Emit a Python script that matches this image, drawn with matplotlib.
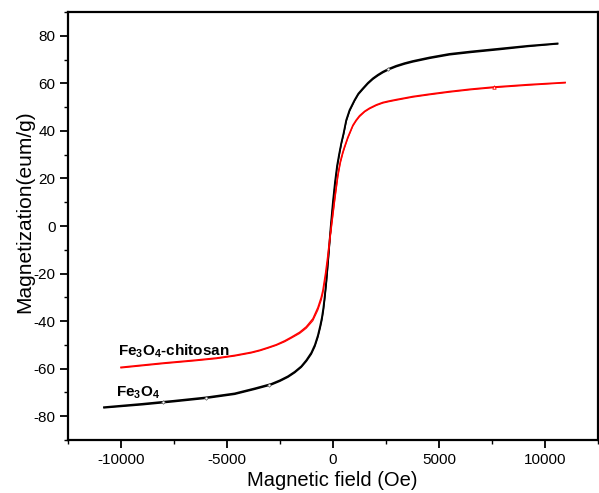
import matplotlib
matplotlib.use("Agg")
import matplotlib.pyplot as plt
from matplotlib.ticker import MultipleLocator

plt.rcParams['font.family'] = ['Liberation Sans', 'DejaVu Sans']
plt.rcParams['mathtext.fontset'] = 'custom'
plt.rcParams['mathtext.rm'] = 'Liberation Sans'
plt.rcParams['mathtext.bf'] = 'Liberation Sans:bold'

# Fe3O4 (black): field in Oe, magnetization in emu/g, two loop branches
fe_field = [-10800, -9000, -7500, -6000, -4633, -3690, -2904, -2500, -2121, -1800,
            -1490, -1250, -1018, -850, -707, -600, -518, -450, -391, -311,
            -230, -110, 0, 100, 200, 300, 400, 504, 630, 787,
            1023, 1200, 1415, 1650, 1885, 2120, 2357, 2650, 2987, 3380,
            3770, 4557, 5500, 6500, 7850, 9200, 10600]
fe_mag_desc = [-76.2, -74.8, -73.5, -72.1, -70.4, -68.3, -66.4, -64.9, -63.2, -61.3,
               -59.0, -56.4, -53.3, -50.0, -46.0, -42.0, -38.5, -34.5, -30.0, -23.0,
               -14.5, -1.0, 10.0, 18.5, 25.5, 30.5, 35.0, 39.0, 44.6, 48.8,
               53.0, 55.7, 57.9, 60.2, 62.1, 63.6, 64.9, 66.2, 67.4, 68.5,
               69.4, 70.9, 72.4, 73.4, 74.6, 75.8, 76.8]
fe_mag_asc = [-76.5, -75.2, -73.9, -72.5, -70.8, -68.7, -66.8, -65.3, -63.6, -61.7,
              -59.4, -56.9, -53.9, -50.7, -46.8, -43.0, -39.6, -35.8, -31.4, -24.5,
              -16.0, -2.5, 8.5, 17.2, 24.5, 29.7, 34.6, 38.4, 44.0, 48.3,
              52.6, 55.3, 57.5, 59.8, 61.7, 63.2, 64.5, 65.8, 67.0, 68.1,
              69.0, 70.5, 72.0, 73.0, 74.2, 75.5, 76.6]

# Fe3O4-chitosan (red)
ch_field = [-10000, -8000, -6500, -5500, -4633, -3848, -3450, -3063, -2670, -2277,
            -1950, -1570, -1256, -943, -707, -550, -471, -345, -250, -155,
            0, 100, 235, 350, 471, 551, 707, 943, 1100, 1258,
            1500, 1730, 2050, 2357, 2650, 2987, 3770, 4557, 5500, 6500,
            7600, 9200, 10960]
ch_mag_desc = [-59.4, -57.6, -56.4, -55.5, -54.4, -53.1, -52.2, -51.1, -49.9, -48.3,
               -46.7, -44.7, -42.4, -39.0, -34.3, -30.0, -27.0, -19.8, -13.3, -5.8,
               5.5, 12.7, 21.7, 27.2, 31.2, 33.4, 37.4, 42.4, 44.6, 46.4,
               48.3, 49.6, 51.0, 52.0, 52.6, 53.2, 54.5, 55.5, 56.6, 57.6,
               58.5, 59.5, 60.4]
ch_mag_asc = [-59.7, -57.9, -56.7, -55.8, -54.7, -53.4, -52.5, -51.4, -50.2, -48.7,
              -47.1, -45.2, -43.0, -39.8, -35.3, -31.2, -28.3, -21.2, -14.7, -7.2,
              4.2, 11.5, 20.6, 26.3, 30.5, 32.8, 36.9, 42.0, 44.2, 46.0,
              48.0, 49.3, 50.7, 51.7, 52.3, 52.9, 54.2, 55.2, 56.3, 57.3,
              58.2, 59.2, 60.2]

# small stray symbols visible on the traces
fe_sym_field = [-8000, -6000, -3000, 2600]
fe_sym_mag = [-74.1, -72.3, -66.8, 66.0]
ch_sym_field = [7600]
ch_sym_mag = [58.6]

xticks = [-10000, -5000, 0, 5000, 10000]
yticks = [-80, -60, -40, -20, 0, 20, 40, 60, 80]

fig = plt.figure(figsize=(5.99, 4.93), dpi=100)
ax = fig.add_axes([0.1135, 0.1075, 0.8845, 0.868])

ax.plot(fe_field, fe_mag_desc, color='black', lw=1.3)
ax.plot(fe_field, fe_mag_asc, color='black', lw=1.0)
ax.plot(ch_field, ch_mag_desc, color='red', lw=1.1)
ax.plot(ch_field, ch_mag_asc, color='red', lw=0.8)
ax.plot(fe_sym_field, fe_sym_mag, ls='none', marker='D', ms=1.8, mfc='white',
        mec='#555555', mew=0.5)
ax.plot(ch_sym_field, ch_sym_mag, ls='none', marker='^', ms=2.5, mfc='white',
        mec='red', mew=0.6)

ax.set_xlim(-12500, 12500)
ax.set_ylim(-90, 90)
ax.set_xticks(xticks)
ax.set_yticks(yticks)
ax.set_xticklabels([str(t) for t in xticks])
ax.set_yticklabels([str(t) for t in yticks])
ax.xaxis.set_minor_locator(MultipleLocator(2500))
ax.yaxis.set_minor_locator(MultipleLocator(10))

for s in ax.spines.values():
    s.set_linewidth(1.6)
ax.tick_params(which='major', direction='out', length=5.5, width=1.3, labelsize=11, pad=3.5)
ax.tick_params(which='minor', direction='out', length=3, width=1.0)
ax.tick_params(top=False, right=False)

ax.set_xlabel('Magnetic field (Oe)', fontsize=14.5)
ax.set_ylabel('Magnetization(eum/g)', fontsize=15)
ax.xaxis.set_label_coords(0.498, -0.073)
ax.yaxis.set_label_coords(-0.064, 0.534)

ax.text(-10130, -54.2, r'Fe$_\mathbf{3}$O$_\mathbf{4}$-chitosan', fontsize=11,
        fontweight='bold', va='baseline', ha='left')
ax.text(-10250, -71.8, r'Fe$_\mathbf{3}$O$_\mathbf{4}$', fontsize=11,
        fontweight='bold', va='baseline', ha='left')

fig.savefig('out.png', dpi=100)
